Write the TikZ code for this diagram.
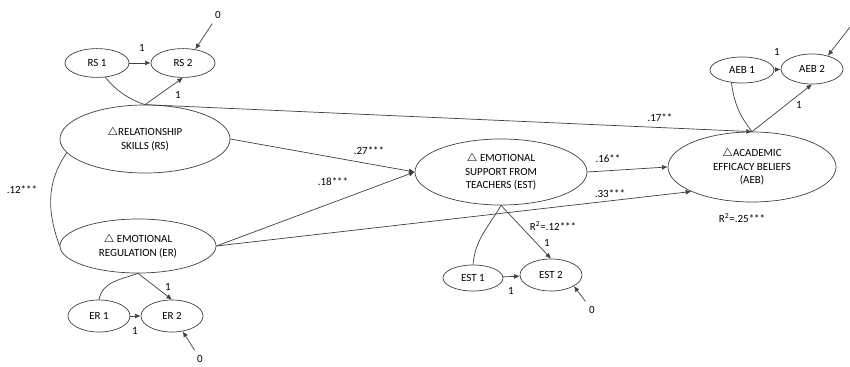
\documentclass[tikz,border=0pt]{standalone}
\usepackage{fontspec}
\setmainfont{Carlito}
\usetikzlibrary{shapes.geometric,arrows.meta}
\definecolor{semgray}{RGB}{64,64,64}

\tikzset{
  latent/.style={ellipse, draw=semgray, line width=0.5pt, inner sep=0pt, align=center},
  indic/.style={ellipse, draw=semgray, line width=0.5pt, inner sep=0pt, minimum width=1.6cm, minimum height=0.72cm},
  effect/.style={draw=semgray, line width=0.5pt, -{Latex[length=4pt,width=3.5pt]}},
  loadline/.style={draw=semgray, line width=0.5pt}
}

\begin{document}
\begin{tikzpicture}[x=0.025cm, y=-0.025cm, every node/.style={font=\fontsize{7.8}{9.8}\selectfont}]
\useasboundingbox (0,0) rectangle (850,367);

% Latent change factors
\node[latent, minimum width=4.25cm, minimum height=1.7cm] (rs) at (145,139) {$\triangle$RELATIONSHIP\\SKILLS (RS)};
\node[latent, minimum width=3.9cm, minimum height=1.35cm] (er) at (138,246) {$\triangle$ EMOTIONAL\\REGULATION (ER)};
\node[latent, minimum width=4.3cm, minimum height=1.65cm] (est) at (501,172) {$\triangle$ EMOTIONAL\\SUPPORT FROM\\TEACHERS (EST)};
\node[latent, minimum width=4.2cm, minimum height=1.75cm] (aeb) at (752,167) {$\triangle$ACADEMIC\\EFFICACY BELIEFS\\(AEB)};

% Observed scores
\node[indic] (rs1) at (97,63) {RS 1};
\node[indic] (rs2) at (183,63) {RS 2};
\node[indic, minimum width=1.55cm, minimum height=0.8cm] (er1) at (99,316) {ER 1};
\node[indic, minimum width=1.55cm, minimum height=0.8cm] (er2) at (172,316) {ER 2};
\node[indic, minimum width=1.5cm, minimum height=0.65cm] (est1) at (473,278) {EST 1};
\node[indic, minimum width=1.55cm, minimum height=0.8cm] (est2) at (551,275) {EST 2};
\node[indic, minimum height=0.65cm] (aeb1) at (742,70) {AEB 1};
\node[indic, minimum width=1.55cm, minimum height=0.75cm] (aeb2) at (812,69) {AEB 2};

% Residuals
\node (e1) at (218,15) {0};
\node (e2) at (200,359) {0};
\node (e3) at (592,310) {0};
\coordinate (e4) at (850,27);
\draw[effect] (e1) -- (rs2.48);
\draw[effect] (e2) -- (er2.305);
\draw[effect] (e3) -- (est2.334);
\draw[effect] (e4) -- (aeb2.40);

% Change score loadings
\draw[effect] (rs1) -- (rs2);
\draw[loadline] (rs1.300) to[bend right=15] (rs.north);
\draw[effect] (rs.north) -- (rs2.south);
\draw[effect] (er1) -- (er2);
\draw[loadline] (er1.north) to[out=80, in=200] (er.south);
\draw[effect] (er.south) -- (er2.north);
\draw[effect] (est1) -- (est2);
\draw[loadline] (est1.north) to[out=85, in=240] (est.south);
\draw[effect] (est.south) -- (est2.north);
\draw[effect] (aeb1) -- (aeb2);
\draw[loadline] (aeb1.230) to[bend right=15] (aeb.north);
\draw[effect] (aeb.north) -- (aeb2.south);

\node (l1) at (142,48) {1};
\node (l2) at (178,95) {1};
\node (l3) at (168,287) {1};
\node (l4) at (135,331) {1};
\node (l5) at (547,243) {1};
\node (l6) at (511,291) {1};
\node (l7) at (777,52) {1};
\node (l8) at (799,105) {1};

% Structural paths
\draw[loadline] (rs.190) to[out=235, in=110] (er.west);
\draw[effect] (rs.north) -- (aeb.north);
\draw[effect] (rs.east) -- (est.west);
\draw[effect] (er.east) -- (est.west);
\draw[effect] (er.east) -- (aeb.202);
\draw[effect] (est.east) -- (aeb.west);

\node (c12) at (22,190) {.12***};
\node (c17) at (660,118) {.17**};
\node (c27) at (369,151) {.27***};
\node (c18) at (333,182) {.18***};
\node (c16) at (608,159) {.16**};
\node (c33) at (610,194) {.33***};
\node (r2est) at (553,226) {R\textsuperscript{2}=.12***};
\node (r2aeb) at (742,218) {R\textsuperscript{2}=.25***};
\end{tikzpicture}
\end{document}
